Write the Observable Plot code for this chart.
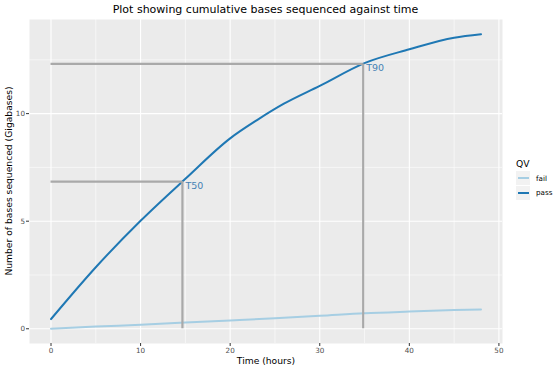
<!DOCTYPE html>
<html>
<head>
<meta charset="utf-8">
<script src="https://cdn.jsdelivr.net/npm/d3@7"></script>
<script src="https://cdn.jsdelivr.net/npm/@observablehq/plot@0.6"></script>
<style>
  html, body { margin: 0; padding: 0; background: #fff; }
  #wrap { position: relative; width: 553px; height: 369px; font-family: "DejaVu Sans", sans-serif; }
  #wrap svg { position: absolute; left: 0; top: 0; }
  .t { position: absolute; white-space: nowrap; color: #000; }
</style>
</head>
<body>
<div id="wrap"></div>
<script>
// ---- data ----
const passTime   = [0, 5, 10, 15, 20, 23, 26, 30, 35, 40, 45, 48];
const passValues = [0.45, 2.86, 5.02, 6.97, 8.85, 9.7, 10.46, 11.29, 12.35, 12.99, 13.53, 13.69];
const failTime   = [0, 5, 10, 15, 20, 25, 30, 35, 40, 45, 48];
const failValues = [0, 0.1, 0.19, 0.29, 0.39, 0.49, 0.6, 0.72, 0.8, 0.87, 0.9];
const thrLabels  = ["T50", "T90"];
const thrTimes   = [14.67, 34.85];
const thrValues  = [6.84, 12.31];
const xMajor = [0, 10, 20, 30, 40, 50];
const xMinor = [5, 15, 25, 35, 45];
const yMajor = [0, 5, 10];
const yMinor = [2.5, 7.5, 12.5];
const qvLevels = ["fail", "pass"];
const qvColors = ["#a6cee3", "#1f78b4"];

const pass = passTime.map((t, i) => ({t, v: passValues[i]}));
const fail = failTime.map((t, i) => ({t, v: failValues[i]}));
const thr = thrLabels.map((label, i) => ({label, t: thrTimes[i], v: thrValues[i], t0: passTime[0], v0: failValues[0]}));

const xmin = 0, xmax = 48, ymin = 0, ymax = d3.max(passValues);
const xe = (xmax - xmin) * 0.05, ye = (ymax - ymin) * 0.05;

const W = 553, H = 369;
const chart = Plot.plot({
  width: W, height: H,
  marginLeft: 29, marginRight: 51, marginTop: 19, marginBottom: 26,
  style: {fontFamily: "DejaVu Sans, sans-serif", background: "transparent"},
  x: {domain: [xmin - xe, xmax + xe]},
  y: {domain: [ymin - ye, ymax + ye]},
  marks: [
    Plot.frame({fill: "#ebebeb", stroke: "none"}),
    Plot.ruleX(xMinor, {stroke: "#fff", strokeWidth: 0.55}),
    Plot.ruleY(yMinor, {stroke: "#fff", strokeWidth: 0.55}),
    Plot.ruleX(xMajor, {stroke: "#fff", strokeWidth: 1.1}),
    Plot.ruleY(yMajor, {stroke: "#fff", strokeWidth: 1.1}),
    Plot.line(fail, {x: "t", y: "v", stroke: qvColors[0], strokeWidth: 2, curve: "monotone-x"}),
    Plot.line(pass, {x: "t", y: "v", stroke: qvColors[1], strokeWidth: 2, curve: "monotone-x"}),
    Plot.ruleY(thr, {y: "v", x1: "t0", x2: "t", stroke: "#a9a9a9", strokeWidth: 2.2}),
    Plot.ruleX(thr, {x: "t", y1: "v0", y2: "v", stroke: "#a9a9a9", strokeWidth: 2.2}),
    Plot.text(thr, {x: "t", y: "v", text: "label", textAnchor: "start", dx: 3, dy: 4, fill: "#4682b4", fontSize: 9.5}),
    Plot.axisX(xMajor, {tickSize: 3, tickPadding: 1.5, fontSize: 7.2, label: null, stroke: "#333", color: "#4d4d4d"}),
    Plot.axisY(yMajor, {tickSize: 3, tickPadding: 1.5, fontSize: 7.2, label: null, stroke: "#333", color: "#4d4d4d"})
  ]
});
const wrap = document.getElementById("wrap");
wrap.appendChild(chart);

function addText(txt, css) {
  const d = document.createElement("div");
  d.className = "t";
  d.textContent = txt;
  Object.assign(d.style, css);
  wrap.appendChild(d);
  return d;
}
// title
addText("Plot showing cumulative bases sequenced against time", {left: "265.5px", top: "3px", fontSize: "11px", transform: "translateX(-50%)"});
// x title
addText("Time (hours)", {left: "266px", top: "354.5px", fontSize: "9.2px", transform: "translateX(-50%)"});
// y title
addText("Number of bases sequenced (Gigabases)", {left: "8px", top: "181px", fontSize: "9.2px", transform: "translate(-50%,-50%) rotate(-90deg)"});

// legend
addText("QV", {left: "516px", top: "158px", fontSize: "9.2px"});
qvLevels.forEach((lv, i) => {
  const top = 171 + i * 14.5;
  const key = document.createElement("div");
  Object.assign(key.style, {position: "absolute", left: "516px", top: top + "px", width: "14px", height: "14px", background: "#f2f2f2"});
  const ln = document.createElement("div");
  Object.assign(ln.style, {position: "absolute", left: "1.5px", right: "1.5px", top: "6px", height: "2px", background: qvColors[i]});
  key.appendChild(ln);
  wrap.appendChild(key);
  addText(lv, {left: "536px", top: (top + 2.5) + "px", fontSize: "7.2px"});
});
</script>
</body>
</html>
